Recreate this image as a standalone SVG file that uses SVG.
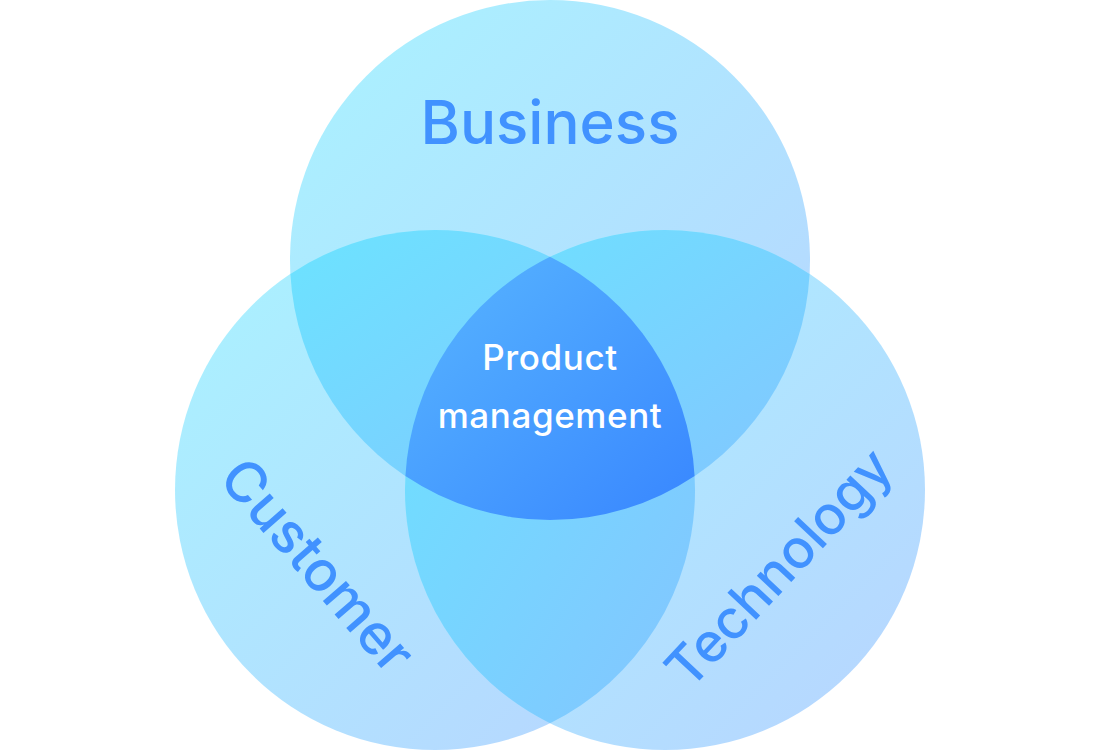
<svg xmlns="http://www.w3.org/2000/svg" width="1100" height="750" viewBox="0 0 1100 750">
<defs>
<linearGradient id="gSingle" x1="0" y1="0" x2="1" y2="1">
<stop offset="0" stop-color="#a9f3ff"/>
<stop offset="1" stop-color="#b8d4ff"/>
</linearGradient>
<linearGradient id="gLens" x1="0" y1="0" x2="1" y2="1">
<stop offset="0" stop-color="#6ce3ff"/>
<stop offset="1" stop-color="#84c4ff"/>
</linearGradient>
<linearGradient id="gCenter" x1="0" y1="0" x2="1" y2="1">
<stop offset="0" stop-color="#58b6ff"/>
<stop offset="1" stop-color="#3886ff"/>
</linearGradient>
<style>
.lbl{font-family:Inter,"Noto Sans","Liberation Sans",sans-serif;font-size:56px;font-weight:500;fill:#4192ff;text-anchor:middle}
.big{font-size:60px}
.tech{font-size:54px}
.ctr{font-family:Inter,"Noto Sans","Liberation Sans",sans-serif;font-size:35px;font-weight:500;fill:#ffffff;text-anchor:middle;letter-spacing:0.6px}
</style>
</defs>
<rect width="1100" height="750" fill="#ffffff"/>
<g id="business">
<circle cx="550" cy="260" r="260" fill="url(#gSingle)"/>
</g>
<g id="customer">
<circle cx="435" cy="490" r="260" fill="url(#gSingle)"/>
</g>
<g id="technology">
<circle cx="665" cy="490" r="260" fill="url(#gSingle)"/>
</g>
<g id="overlaps">
<path d="M290.4,273.9 A260,260 0 0 1 694.6,476.1 A260,260 0 0 1 290.4,273.9 Z" fill="url(#gLens)"/>
<path d="M809.6,273.9 A260,260 0 0 0 405.4,476.1 A260,260 0 0 0 809.6,273.9 Z" fill="url(#gLens)"/>
<path d="M550,256.8 A260,260 0 0 1 550,723.2 A260,260 0 0 1 550,256.8 Z" fill="url(#gLens)"/>
</g>
<g id="product-management">
<path d="M550,256.8 A260,260 0 0 1 694.6,476.1 A260,260 0 0 1 405.4,476.1 A260,260 0 0 1 550,256.8 Z" fill="url(#gCenter)"/>
<text class="ctr" x="550" y="370">Product</text>
<text class="ctr" x="550" y="428">management</text>
</g>
<g id="labels">
<text class="lbl big" x="550" y="144">Business</text>
<text class="lbl" transform="translate(318,565) rotate(49)" x="0" y="20">Customer</text>
<text class="lbl tech" transform="translate(778,567) rotate(-47)" x="0" y="20">Technology</text>
</g>
</svg>
